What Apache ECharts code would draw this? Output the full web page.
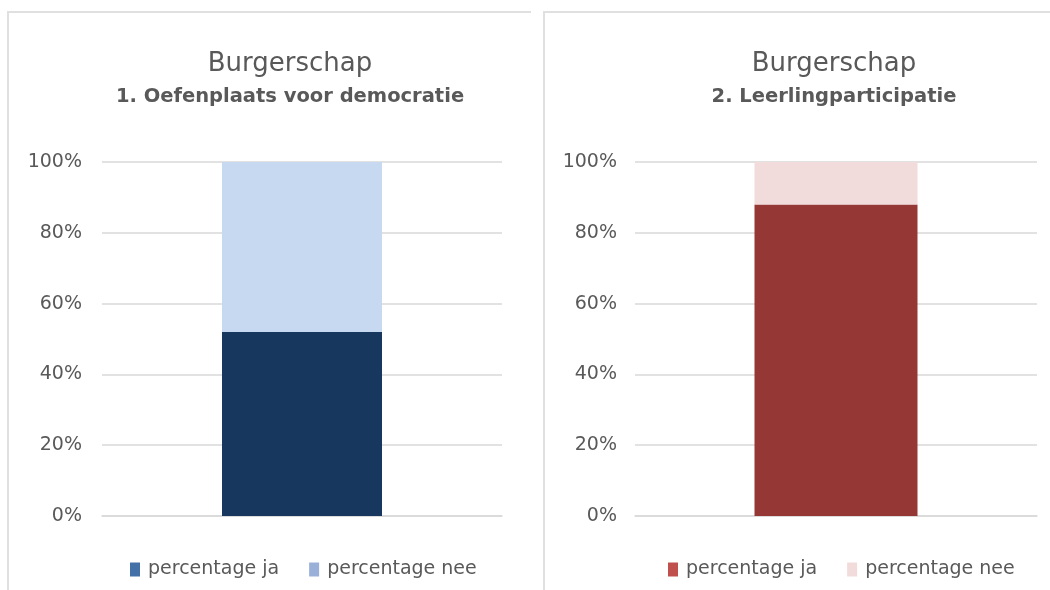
<!DOCTYPE html>
<html>
<head>
<meta charset="utf-8">
<script src="https://cdn.jsdelivr.net/npm/echarts@6/dist/echarts.min.js"></script>
<style>
html,body{margin:0;padding:0;background:#fff;}
#chart{width:1050px;height:590px;}
</style>
</head>
<body>
<div id="chart"></div>
<script>
// ---- data ----
const categories = [''];
const seriesNames = ['percentage ja', 'percentage nee'];
const leftTitle = 'Burgerschap';
const leftSubtitle = '1. Oefenplaats voor democratie';
const rightTitle = 'Burgerschap';
const rightSubtitle = '2. Leerlingparticipatie';
const leftJa = [52];
const leftNee = [48];
const rightJa = [88];
const rightNee = [12];
const yTicks = [0, 20, 40, 60, 80, 100];

// ---- styles ----
const FONT = "'DejaVu Sans', Verdana, sans-serif";
const TXT = '#595959';
const GRID = '#D9D9D9';

const chart = echarts.init(document.getElementById('chart'), null, {renderer: 'canvas'});

function yAxis(gridIndex, margin) {
  return {
    type: 'value', gridIndex: gridIndex,
    min: yTicks[0], max: yTicks[yTicks.length - 1], interval: yTicks[1] - yTicks[0],
    axisLine: {show: false}, axisTick: {show: false},
    axisLabel: {formatter: '{value}%', color: TXT, fontFamily: FONT, fontSize: 19, margin: margin},
    splitLine: {lineStyle: {color: GRID, width: 1.5}}
  };
}
function xAxis(gridIndex) {
  return {
    type: 'category', gridIndex: gridIndex, data: categories,
    axisLine: {lineStyle: {color: GRID, width: 1.5}}, axisTick: {show: false},
    axisLabel: {show: false}
  };
}
function titleOpt(x, t, s) {
  return {
    text: t, subtext: s, left: x, top: 44, textAlign: 'center', itemGap: 7,
    textStyle: {fontFamily: FONT, fontSize: 26, fontWeight: 'normal', color: TXT, lineHeight: 30},
    subtextStyle: {fontFamily: FONT, fontSize: 19.5, fontWeight: 'bold', color: TXT, lineHeight: 22}
  };
}
function legendOpt(x, c1, c2) {
  return {
    left: x, top: 555, itemWidth: 10, itemHeight: 14, itemGap: 30,
    icon: 'rect',
    textStyle: {fontFamily: FONT, fontSize: 19, color: TXT, padding: [0, 0, 0, 3]},
    selectedMode: false,
    data: [
      {name: seriesNames[0], itemStyle: {color: c1}},
      {name: seriesNames[1], itemStyle: {color: c2}}
    ]
  };
}

chart.setOption({
  animation: false,
  backgroundColor: '#fff',
  title: [
    titleOpt(285, leftTitle, leftSubtitle),
    titleOpt(829, rightTitle, rightSubtitle)
  ],
  legend: [
    legendOpt(125, '#4470A8', '#9AB0D8'),
    legendOpt(663, '#C0504D', '#F2DCDB')
  ],
  grid: [
    {left: 102, right: 548, top: 162, bottom: 74},
    {left: 635, right: 13, top: 162, bottom: 74}
  ],
  xAxis: [xAxis(0), xAxis(1)],
  yAxis: [yAxis(0, 20), yAxis(1, 18)],
  graphic: [
    {type: 'polyline', shape: {points: [[8, 592], [8, 12], [531, 12]]}, style: {stroke: '#E0E0E0', lineWidth: 2, fill: null}, silent: true},
    {type: 'polyline', shape: {points: [[544, 592], [544, 12], [1052, 12]]}, style: {stroke: '#E0E0E0', lineWidth: 2, fill: null}, silent: true}
  ],
  series: [
    {name: seriesNames[0], type: 'bar', stack: 'L', xAxisIndex: 0, yAxisIndex: 0, data: leftJa, barWidth: 160, itemStyle: {color: '#17375E'}},
    {name: seriesNames[1], type: 'bar', stack: 'L', xAxisIndex: 0, yAxisIndex: 0, data: leftNee, barWidth: 160, itemStyle: {color: '#C6D9F1'}},
    {name: seriesNames[0], type: 'bar', stack: 'R', xAxisIndex: 1, yAxisIndex: 1, data: rightJa, barWidth: 163, itemStyle: {color: '#953735'}},
    {name: seriesNames[1], type: 'bar', stack: 'R', xAxisIndex: 1, yAxisIndex: 1, data: rightNee, barWidth: 163, itemStyle: {color: '#F2DCDB'}}
  ]
});
</script>
</body>
</html>
